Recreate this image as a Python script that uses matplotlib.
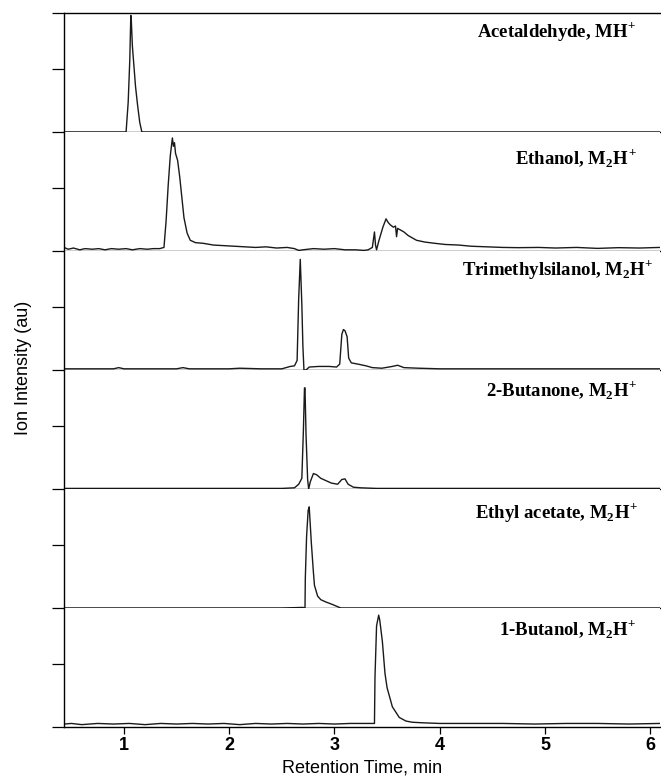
import matplotlib
matplotlib.use("Agg")
from matplotlib import pyplot as plt

plt.rcParams['font.family'] = ['Liberation Sans', 'DejaVu Sans']
plt.rcParams['mathtext.fontset'] = 'custom'
plt.rcParams['mathtext.rm'] = 'Liberation Serif:bold'
plt.rcParams['mathtext.bf'] = 'Liberation Serif:bold'

# retention time (min) / relative ion intensity
acet_t = [0.43, 1.00, 1.02, 1.04, 1.055, 1.065, 1.07, 1.08, 1.095, 1.11, 1.13, 1.15, 1.17, 6.09]
acet_y = [0.0, 0.0, 0.0, 0.25, 0.6, 0.98, 0.93, 0.72, 0.55, 0.38, 0.22, 0.08, 0.0, 0.0]

eth_t = [0.43, 0.47, 0.52, 0.58, 0.63, 0.70, 0.76, 0.82, 0.88, 0.95, 1.02, 1.08, 1.15, 1.22, 1.28,
         1.34, 1.38, 1.40, 1.42, 1.44, 1.46, 1.47, 1.48, 1.49, 1.51, 1.53, 1.55, 1.57, 1.60, 1.63,
         1.68, 1.75, 1.85, 1.95, 2.05, 2.15, 2.25, 2.35, 2.45, 2.55, 2.62, 2.66, 2.70, 2.80, 2.90,
         3.00, 3.10, 3.20, 3.28, 3.32, 3.36, 3.38, 3.39, 3.40, 3.42, 3.46, 3.49, 3.51, 3.53, 3.56,
         3.58, 3.59, 3.60, 3.62, 3.66, 3.70, 3.78, 3.86, 3.95, 4.05, 4.18, 4.30, 4.45, 4.60, 4.75,
         4.94, 5.10, 5.30, 5.50, 5.70, 5.90, 6.09]
eth_y = [0.03, 0.015, 0.025, 0.01, 0.02, 0.015, 0.02, 0.01, 0.02, 0.015, 0.02, 0.01, 0.02, 0.015, 0.02,
         0.02, 0.03, 0.25, 0.55, 0.8, 0.95, 0.88, 0.91, 0.82, 0.76, 0.62, 0.45, 0.28, 0.15, 0.09,
         0.07, 0.065, 0.05, 0.045, 0.04, 0.035, 0.03, 0.035, 0.025, 0.03, 0.02, 0.005, 0.01, 0.02, 0.015,
         0.02, 0.01, 0.01, 0.005, 0.01, 0.03, 0.16, 0.05, 0.01, 0.08, 0.2, 0.27, 0.24, 0.22, 0.2,
         0.21, 0.12, 0.19, 0.18, 0.16, 0.13, 0.09, 0.075, 0.065, 0.055, 0.05, 0.04, 0.035, 0.03, 0.028,
         0.03, 0.025, 0.03, 0.022, 0.028, 0.025, 0.03]

tms_t = [0.43, 0.70, 0.90, 0.95, 1.00, 1.20, 1.50, 1.56, 1.62, 1.80, 2.00, 2.10, 2.30, 2.50, 2.58,
         2.62, 2.645, 2.66, 2.675, 2.69, 2.70, 2.71, 2.73, 2.76, 2.85, 2.95, 3.02, 3.05, 3.07, 3.085,
         3.10, 3.12, 3.135, 3.16, 3.22, 3.30, 3.36, 3.45, 3.55, 3.60, 3.66, 3.80, 4.00, 4.30, 4.60,
         5.00, 5.40, 5.80, 6.09]
tms_y = [0.01, 0.01, 0.01, 0.02, 0.01, 0.01, 0.01, 0.02, 0.01, 0.01, 0.01, 0.015, 0.01, 0.01, 0.03,
         0.035, 0.08, 0.6, 0.93, 0.55, 0.2, 0.0, 0.0, 0.025, 0.03, 0.03, 0.025, 0.05, 0.3, 0.34,
         0.33, 0.28, 0.1, 0.06, 0.05, 0.035, 0.02, 0.015, 0.03, 0.04, 0.02, 0.015, 0.01, 0.01, 0.01,
         0.01, 0.01, 0.01, 0.01]

but_t = [0.43, 1.00, 1.50, 2.00, 2.50, 2.62, 2.66, 2.69, 2.705, 2.715, 2.72, 2.73, 2.745, 2.755, 2.77,
         2.80, 2.83, 2.87, 2.92, 2.97, 3.03, 3.07, 3.10, 3.13, 3.18, 3.25, 3.40, 3.80, 4.50, 5.20, 6.09]
but_y = [0.005, 0.005, 0.005, 0.005, 0.005, 0.01, 0.04, 0.09, 0.5, 0.85, 0.85, 0.45, 0.08, 0.0, 0.06,
         0.13, 0.12, 0.09, 0.07, 0.05, 0.04, 0.08, 0.085, 0.04, 0.015, 0.01, 0.005, 0.005, 0.005, 0.005, 0.005]

etac_t = [0.43, 1.50, 2.50, 2.70, 2.72, 2.723, 2.735, 2.75, 2.76, 2.78, 2.80, 2.81, 2.84, 2.87, 2.92,
          2.98, 3.06, 3.50, 4.50, 5.50, 6.09]
etac_y = [0.0, 0.0, 0.0, 0.005, 0.0, 0.25, 0.6, 0.82, 0.85, 0.55, 0.3, 0.19, 0.1, 0.07, 0.05,
          0.03, 0.0, 0.0, 0.0, 0.0, 0.0]

buol_t = [0.43, 0.50, 0.60, 0.75, 0.90, 1.05, 1.20, 1.35, 1.50, 1.65, 1.80, 1.95, 2.10, 2.25, 2.40,
          2.55, 2.70, 2.85, 3.00, 3.15, 3.30, 3.38, 3.385, 3.40, 3.42, 3.43, 3.455, 3.48, 3.50, 3.55,
          3.616, 3.68, 3.74, 3.85, 4.00, 4.30, 4.60, 4.90, 5.20, 5.50, 5.80, 6.09]
buol_y = [0.025, 0.03, 0.02, 0.03, 0.025, 0.03, 0.02, 0.03, 0.025, 0.03, 0.025, 0.03, 0.02, 0.03, 0.025,
          0.03, 0.025, 0.03, 0.025, 0.03, 0.03, 0.03, 0.42, 0.85, 0.94, 0.9, 0.72, 0.45, 0.33, 0.17,
          0.08, 0.05, 0.04, 0.035, 0.03, 0.03, 0.03, 0.025, 0.03, 0.03, 0.025, 0.03]

traces = [(acet_t, acet_y), (eth_t, eth_y), (tms_t, tms_y),
          (but_t, but_y), (etac_t, etac_y), (buol_t, buol_y)]
labels = [r'Acetaldehyde, MH$^{\!+}$', r'Ethanol, M$_2$H$^{\!+}$', r'Trimethylsilanol, M$_2$H$^{\!+}$',
          r'2-Butanone, M$_2$H$^{\!+}$', r'Ethyl acetate, M$_2$H$^{\!+}$', r'1-Butanol, M$_2$H$^{\!+}$']
label_pos = [(0.9615, 0.84), (0.9615, 0.78), (0.99, 0.84), (0.9615, 0.83), (0.963, 0.80), (0.9615, 0.82)]
x_ticks = [1, 2, 3, 4, 5, 6]

fig = plt.figure(figsize=(6.61, 7.83), dpi=100)
gs = fig.add_gridspec(6, 1, left=0.0968, right=0.998, top=0.9834, bottom=0.0715, hspace=0)
axes = [fig.add_subplot(gs[i]) for i in range(6)]

for i, ax in enumerate(axes):
    t, y = traces[i]
    ax.plot(t, y, color='#1a1a1a', linewidth=1.0)
    ax.set_xlim(0.43, 6.09)
    ax.set_ylim(0, 1)
    ax.spines['right'].set_visible(False)
    if i > 0:
        ax.spines['top'].set_visible(False)
    for s in ax.spines.values():
        s.set_linewidth(1.0)
    ax.set_yticks([0, 0.53, 1] if i == 0 else [0, 0.53])
    ax.set_yticklabels([])
    ax.tick_params(axis='y', direction='out', length=8.5, width=0.9)
    lx, ly = label_pos[i]
    ax.text(lx, ly, labels[i], transform=ax.transAxes, ha='right', va='center',
            fontsize=13.5, family='Liberation Serif', fontweight='bold')
    if i < 5:
        ax.set_xticks([])
    else:
        ax.set_xticks(x_ticks)
        ax.set_xticklabels([str(v) for v in x_ticks], fontweight='bold', fontsize=13)
        ax.tick_params(axis='x', direction='out', length=5, width=0.9, pad=2)
        ax.set_xlabel('Retention Time, min', fontsize=13, labelpad=4)

fig.text(0.035, 0.53, 'Ion Intensity (au)', rotation=90, ha='center', va='center', fontsize=13)

fig.savefig('out.png', dpi=100)
